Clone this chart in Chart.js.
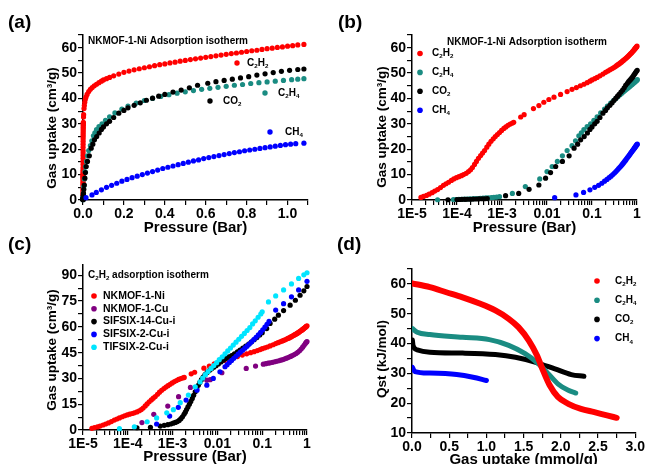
<!DOCTYPE html>
<html>
<head>
<meta charset="utf-8">
<script src="https://cdn.jsdelivr.net/npm/chart.js@4.4.0/dist/chart.umd.min.js"></script>
<style>
html, body { margin: 0; padding: 0; background: #fff; overflow: hidden; }
#wrap { position: relative; width: 646px; height: 464px; }
canvas { position: absolute; }
</style>
</head>
<body>
<div id="wrap">
  <canvas id="chartA" width="323" height="240" style="left:0;top:0"></canvas>
  <canvas id="chartB" width="323" height="240" style="left:323px;top:0"></canvas>
  <canvas id="chartC" width="323" height="240" style="left:0;top:232px"></canvas>
  <canvas id="chartD" width="323" height="240" style="left:323px;top:232px"></canvas>
</div>
<script>
// NKMOF-1-Ni isotherms, [pressure (bar), uptake (cm3/g)]
const c2h2Ni = [[1.58e-5,1.0],[1.8e-5,1.4],[2.1e-5,1.8],[2.4e-5,2.3],[2.8e-5,2.9],[3.2e-5,3.5],[3.7e-5,4.1],[4.3e-5,4.9],[5.0e-5,5.8],[5.7e-5,6.4],[6.5e-5,7.0],[7.5e-5,7.7],[8.5e-5,8.3],[9.7e-5,8.8],[1.1e-4,9.2],[1.25e-4,9.6],[1.4e-4,10.0],[1.6e-4,10.5],[1.8e-4,11.2],[2.0e-4,11.9],[2.2e-4,12.8],[2.45e-4,14.0],[2.7e-4,15.2],[3.0e-4,16.4],[3.35e-4,17.5],[3.7e-4,18.5],[4.1e-4,19.5],[4.6e-4,20.8],[5.1e-4,22.0],[5.7e-4,23.1],[6.4e-4,24.1],[7.1e-4,25.0],[7.9e-4,25.8],[8.8e-4,26.6],[9.8e-4,27.4],[1.1e-3,28.2],[1.22e-3,28.8],[1.36e-3,29.4],[1.52e-3,29.9],[1.7e-3,30.3],[1.82e-3,30.6],
  [2.6e-3,32.7],[3.1e-3,33.6],[5.0e-3,36.0],[6.6e-3,37.2],[8.5e-3,38.5],[0.011,39.6],[0.0143,40.5],[0.02,41.6],[0.028,42.7],[0.036,43.6],[0.045,44.3],[0.055,45.0],[0.066,45.6],[0.078,46.2],[0.09,46.8],[0.1,47.3],[0.115,47.8],[0.13,48.3],[0.15,48.9],[0.175,49.6],[0.2,50.3],[0.225,50.8],[0.25,51.3],[0.275,51.7],[0.3,52.1],[0.325,52.5],[0.35,52.9],[0.375,53.3],[0.4,53.6],[0.425,54.0],[0.45,54.3],[0.475,54.7],[0.5,55.0],[0.525,55.3],[0.55,55.6],[0.575,55.9],[0.6,56.2],[0.625,56.5],[0.65,56.8],[0.675,57.1],[0.7,57.4],[0.725,57.7],[0.75,57.9],[0.775,58.2],[0.8,58.5],[0.825,58.8],[0.85,59.0],[0.875,59.3],[0.9,59.6],[0.925,59.8],[0.95,60.1],[0.975,60.3],[1.0,60.6],[1.025,60.8],[1.05,61.1],[1.08,61.3]];
const c2h4Ni = [[3.7e-5,0.1],[8.3e-5,0.2],[9.5e-5,0.2],[1.1e-4,0.25],[1.25e-4,0.3],[1.45e-4,0.35],[1.65e-4,0.4],[1.9e-4,0.45],[2.2e-4,0.5],[2.5e-4,0.55],[2.9e-4,0.6],[3.3e-4,0.65],[3.8e-4,0.7],[4.4e-4,0.8],[5.0e-4,0.85],[5.8e-4,0.95],[6.6e-4,1.05],[7.6e-4,1.15],[8.8e-4,1.3],
  [1.7e-3,2.6],[3.3e-3,5.3],[6.9e-3,8.3],[0.01,11.2],[0.013,13.2],[0.017,15.2],[0.022,17.4],[0.028,19.5],[0.036,21.4],[0.043,23.3],[0.051,25.3],[0.058,26.5],[0.066,27.7],[0.078,28.9],[0.093,30.0],[0.11,31.4],[0.13,32.8],[0.156,34.3],[0.19,35.8],[0.22,37.0],[0.26,38.2],[0.3,39.2],[0.34,40.0],[0.38,40.8],[0.42,41.5],[0.46,42.1],[0.5,42.6],[0.54,43.1],[0.58,43.6],[0.62,44.0],[0.66,44.4],[0.7,44.8],[0.74,45.2],[0.78,45.5],[0.82,45.9],[0.86,46.2],[0.9,46.5],[0.94,46.8],[0.98,47.1],[1.02,47.4],[1.05,47.6],[1.08,47.8]];
const co2Ni = [[6.3e-5,0.1],[1.0e-4,0.2],[1.15e-4,0.2],[1.3e-4,0.25],[1.5e-4,0.25],[1.7e-4,0.3],[2.0e-4,0.3],[2.3e-4,0.35],[2.7e-4,0.4],[3.1e-4,0.45],[3.6e-4,0.5],[4.1e-4,0.5],[4.7e-4,0.55],
  [1.2e-3,1.7],[2.35e-3,2.6],[4.0e-3,4.2],[6.6e-3,5.9],[9.3e-3,8.6],[0.012,10.8],[0.0156,13.2],[0.022,15.2],[0.031,17.4],[0.04,20.4],[0.048,22.0],[0.056,23.7],[0.067,25.0],[0.079,26.4],[0.09,27.8],[0.1,28.8],[0.115,30.0],[0.13,31.0],[0.15,32.5],[0.175,34.2],[0.2,35.3],[0.22,36.3],[0.25,37.3],[0.28,38.3],[0.31,39.3],[0.34,40.1],[0.37,40.9],[0.4,41.6],[0.44,42.5],[0.48,43.3],[0.52,44.2],[0.56,45.2],[0.61,46.0],[0.65,46.6],[0.69,47.1],[0.73,47.6],[0.77,48.1],[0.81,48.6],[0.85,49.2],[0.89,49.7],[0.93,50.2],[0.97,50.7],[1.01,51.1],[1.05,51.4],[1.08,51.6]];
const ch4Ni = [[0.0148,0.9],[0.044,2.0],[0.065,3.0],[0.09,4.0],[0.115,5.0],[0.14,5.8],[0.165,6.6],[0.19,7.4],[0.215,8.1],[0.24,8.8],[0.265,9.4],[0.29,10.0],[0.315,10.6],[0.34,11.2],[0.365,11.8],[0.39,12.4],[0.415,12.9],[0.44,13.4],[0.465,13.9],[0.49,14.4],[0.515,14.9],[0.54,15.4],[0.565,15.8],[0.59,16.3],[0.615,16.7],[0.64,17.1],[0.665,17.5],[0.69,17.9],[0.715,18.3],[0.74,18.7],[0.765,19.0],[0.79,19.4],[0.815,19.7],[0.84,20.0],[0.865,20.3],[0.89,20.6],[0.915,20.9],[0.94,21.2],[0.965,21.5],[0.99,21.8],[1.015,22.0],[1.04,22.2],[1.08,22.4]];

// C2H2 isotherms of the comparison materials
const c2h2Cu = [[2.07e-4,4.3],[3.8e-4,9.1],[7.8e-4,13.9],[1.36e-3,19.4],[2.5e-3,24.8],[5.8e-3,29.0],[6.9e-3,29.3],[0.0126,33.3],[0.044,35.8],[0.071,37.2],[0.106,38.3],[0.12,38.6],[0.135,38.9],[0.15,39.1],[0.17,39.4],[0.19,39.7],[0.21,40.0],[0.235,40.3],[0.26,40.6],[0.29,41.0],[0.32,41.4],[0.35,41.8],[0.39,42.3],[0.43,42.8],[0.47,43.3],[0.52,43.9],[0.57,44.5],[0.62,45.2],[0.68,46.1],[0.74,47.1],[0.8,48.2],[0.86,49.3],[0.92,50.4],[0.97,51.1],[1.0,51.5]];
const c2h2S14 = [[1.6e-4,1.3],[3.2e-4,1.6],[5.3e-4,2.3],[6.5e-4,2.7],[7.8e-4,3.1],[9.1e-4,3.5],[1.03e-3,4.0],[1.15e-3,4.4],[1.28e-3,4.9],[1.4e-3,5.6],[1.53e-3,6.6],[1.66e-3,7.7],[1.8e-3,9.1],[1.92e-3,10.4],[2.05e-3,11.9],[2.2e-3,13.4],[2.37e-3,15.0],[2.55e-3,16.6],[2.75e-3,18.4],[2.95e-3,20.2],[3.2e-3,22.2],[3.45e-3,24.1],[3.75e-3,26.0],[4.05e-3,27.7],[4.4e-3,29.3],[4.8e-3,30.8],[5.3e-3,32.3],[5.9e-3,33.5],[6.6e-3,34.6],[7.4e-3,35.6],[8.3e-3,36.5],[9.3e-3,37.4],[0.0105,38.4],[0.012,39.6],[0.0137,40.7],[0.0157,41.6],[0.018,42.5],[0.0208,43.3],[0.024,44.3],[0.028,45.4],[0.032,46.5],[0.037,47.6],[0.043,48.8],[0.05,50.0],[0.057,51.2],[0.066,52.5],[0.076,53.8],[0.088,55.3],[0.1,56.6],[0.126,59.0],[0.15,62.0],[0.19,64.5],[0.23,66.8],[0.3,69.5],[0.42,72.6],[0.55,75.5],[0.7,78.4],[0.85,81.0],[1.0,83.5]];
const c2h2S2 = [[4.4e-4,3.5],[8.6e-4,8.1],[1.34e-3,13.2],[2.0e-3,17.4],[3.5e-3,23.2],[5.8e-3,26.1],[8.1e-3,30.0],[0.0114,33.9],[0.0148,36.8],[0.0165,38.0],[0.0185,39.3],[0.0207,40.5],[0.0232,41.7],[0.026,42.9],[0.029,44.1],[0.0325,45.3],[0.0365,46.4],[0.041,47.6],[0.046,48.8],[0.0515,50.0],[0.058,51.3],[0.065,52.6],[0.073,53.9],[0.082,55.3],[0.092,56.8],[0.103,58.3],[0.115,59.9],[0.128,61.5],[0.142,63.2],[0.2,69.8],[0.3,73.5],[0.45,77.5],[0.65,81.5],[1.0,86.5]];
const c2h2Ti = [[6.5e-5,0.8],[1.4e-4,1.9],[2.7e-4,4.8],[4.4e-4,7.0],[7.4e-4,10.0],[1.04e-3,11.8],[1.48e-3,15.9],[2.25e-3,20.3],[3.2e-3,25.1],[4.1e-3,28.0],[4.7e-3,30.2],[5.4e-3,32.2],[6.2e-3,34.0],[7.2e-3,35.8],[8.3e-3,37.5],[9.6e-3,39.2],[0.011,40.9],[0.0128,42.6],[0.0148,44.3],[0.017,46.0],[0.0196,47.7],[0.0226,49.4],[0.026,51.1],[0.03,52.8],[0.0346,54.5],[0.04,56.2],[0.046,57.9],[0.053,59.6],[0.061,61.7],[0.07,63.5],[0.081,65.6],[0.093,67.5],[0.1,68.8],[0.138,74.5],[0.2,78.0],[0.3,81.5],[0.45,85.0],[0.65,88.2],[0.85,90.3],[1.0,91.5]];

// isosteric heats, [uptake (mmol/g), Qst (kJ/mol)]
const qstC2h2 = [[0,60.2],[0.24,58.9],[0.46,57.2],[0.68,55.5],[0.9,53.5],[1.12,51.1],[1.3,48.3],[1.43,45.5],[1.57,41.0],[1.68,36.0],[1.76,31.0],[1.85,26.0],[1.96,22.1],[2.1,19.8],[2.27,18.1],[2.45,17.0],[2.62,15.9],[2.75,15.1]];
const qstC2h4 = [[0,45.1],[0.07,43.8],[0.24,43.0],[0.68,42.1],[1.04,41.3],[1.3,39.4],[1.52,36.6],[1.7,33.2],[1.83,29.9],[1.96,26.5],[2.1,24.3],[2.2,23.4]];
const qstCo2 = [[0.005,41.2],[0.015,39.2],[0.07,37.9],[0.24,37.1],[0.68,36.8],[1.12,36.3],[1.39,35.4],[1.65,33.8],[1.92,31.5],[2.14,29.6],[2.31,29.0]];
const qstCh4 = [[0.005,32.0],[0.04,30.6],[0.24,30.1],[0.6,29.6],[0.82,28.7],[1.0,27.6]];

const logDecades = [1e-5, 1e-4, 1e-3, 1e-2, 1e-1];
const logTickLabels = ['1E-5', '1E-4', '1E-3', '0.01', '0.1', '1'];

const RED = '#ff0000', TEAL = '#1a8c82', BLACK = '#000000', BLUE = '#0000ff', PURPLE = '#800080', CYAN = '#00e5ff';
const FONT = '"Liberation Sans", Arial, sans-serif';

const logTickValues = [];
logDecades.forEach(d => { for (let m = 1; m <= 9; m++) logTickValues.push(m * d); });
logTickValues.push(1);

// "_" puts the next character in subscript
function drawRich(ctx, text, x, y, size) {
  let cx = x;
  text.match(/_.|[^_]+/g).forEach(p => {
    const sub = p[0] === '_';
    const s = sub ? p.slice(1) : p;
    ctx.font = 'bold ' + (sub ? size * 0.62 : size) + 'px ' + FONT;
    ctx.fillText(s, cx, sub ? y + size * 0.32 : y);
    cx += ctx.measureText(s).width;
  });
}

const notes = {
  id: 'notes',
  afterDatasetsDraw(chart, args, o) {
    const ctx = chart.ctx;
    ctx.save();
    ctx.textBaseline = 'middle';
    ctx.textAlign = 'left';
    (o.items || []).forEach(it => {
      if (it.dot) {
        ctx.fillStyle = it.dot;
        ctx.beginPath();
        ctx.arc(it.dotX, it.y, 2.7, 0, Math.PI * 2);
        ctx.fill();
      }
      ctx.fillStyle = '#000';
      drawRich(ctx, it.text, it.x, it.y, it.size);
    });
    if (o.legend) {
      const L = o.legend;
      chart.data.datasets.forEach((ds, i) => {
        const y = L.y + i * L.dy;
        ctx.fillStyle = ds.legendColor;
        ctx.beginPath();
        ctx.arc(L.dotX, y, 2.8, 0, Math.PI * 2);
        ctx.fill();
        ctx.fillStyle = '#000';
        drawRich(ctx, ds.label, L.x, y, L.size);
      });
    }
    if (o.ytitle) {
      // vertical axis title, placed like the original (a bit below the axis centre)
      const t = o.ytitle;
      ctx.translate(t.x, t.y);
      ctx.rotate(-Math.PI / 2);
      ctx.textAlign = 'center';
      ctx.fillStyle = '#000';
      ctx.font = 'bold ' + t.size + 'px ' + FONT;
      ctx.fillText(t.text, 0, 0);
    }
    ctx.restore();
  }
};
Chart.register(notes);

const isStep = (v, every) => Math.abs(v / every - Math.round(v / every)) < 1e-6;

function axis(title, titleSize, titlePad, boxSize) {
  return {
    border: { display: true, color: '#000', width: 1.5 },
    grid: { drawOnChartArea: false, drawTicks: true, tickLength: 5, color: '#000', lineWidth: 1.2 },
    ticks: { color: '#000', font: { family: FONT, size: 14, weight: 'bold' }, padding: 1,
             autoSkip: false, maxRotation: 0, minRotation: 0, includeBounds: false },
    title: { display: !!title, text: title, color: '#000',
             font: { family: FONT, size: titleSize, weight: 'bold' }, padding: titlePad },
    afterFit: s => { if (s.isHorizontal()) s.height = boxSize; else s.width = boxSize; }
  };
}
function linAxis(title, titleSize, titlePad, boxSize, min, max, step, every, digits) {
  const a = axis(title, titleSize, titlePad, boxSize);
  a.type = 'linear';
  a.min = min; a.max = max;
  a.ticks.stepSize = step;
  a.ticks.callback = v => isStep(v, every) ? v.toFixed(digits) : '';
  return a;
}
function logAxis(title, titlePad, boxSize) {
  const a = axis(title, 15, titlePad, boxSize);
  a.type = 'logarithmic';
  a.min = 1e-5; a.max = 1;
  a.afterBuildTicks = s => { s.ticks = logTickValues.map(v => ({ value: v })); };
  a.ticks.callback = v => {
    const e = Math.log10(v), r = Math.round(e);
    return Math.abs(e - r) < 1e-6 ? logTickLabels[r + 5] : '';
  };
  return a;
}

const pts = arr => arr.map(p => ({ x: p[0], y: p[1] }));
function dots(label, arr, color, i) {
  return { label, data: pts(arr), backgroundColor: color, legendColor: color, borderWidth: 0,
           pointRadius: 2.6, clip: false, order: -i };
}
function curve(label, arr, color, width) {
  return { label, data: pts(arr), borderColor: color, legendColor: color, borderWidth: width,
           pointRadius: 0, showLine: true, cubicInterpolationMode: 'monotone',
           borderCapStyle: 'round', borderJoinStyle: 'round' };
}
function baseOptions(padding, scales, notesOpt) {
  return {
    responsive: false, animation: false, events: [],
    layout: { padding, autoPadding: false },
    plugins: { legend: { display: false }, tooltip: { enabled: false }, notes: notesOpt },
    scales
  };
}
const upTitle = 'Gas uptake (cm\u00b3/g)';

new Chart(document.getElementById('chartA'), {
  type: 'scatter',
  data: { datasets: [
    dots('C_2H_2', c2h2Ni, RED, 0), dots('C_2H_4', c2h4Ni, TEAL, 1),
    dots('CO_2', co2Ni, BLACK, 2), dots('CH_4', ch4Ni, BLUE, 3)
  ] },
  options: baseOptions({ left: 40, top: 35, right: 15, bottom: 0 }, {
    x: linAxis('Pressure (Bar)', 15, { top: 0, bottom: 3.5 }, 40, 0, 1.1, 0.1, 0.2, 1),
    y: linAxis('', 13.5, 0, 43, 0, 65, 5, 10, 0)
  }, {
    items: [
      { text: '(a)', x: 8, y: 23, size: 19 },
      { text: 'NKMOF-1-Ni Adsorption isotherm', x: 88, y: 41, size: 10 },
      { text: 'C_2H_2', x: 247, y: 63, size: 10, dot: RED, dotX: 237 },
      { text: 'CO_2', x: 223, y: 101, size: 10, dot: BLACK, dotX: 210 },
      { text: 'C_2H_4', x: 278, y: 93, size: 10, dot: TEAL, dotX: 265 },
      { text: 'CH_4', x: 285, y: 132, size: 10, dot: BLUE, dotX: 270 }
    ],
    ytitle: { text: upTitle, x: 52, y: 128, size: 13.5 }
  })
});

new Chart(document.getElementById('chartB'), {
  type: 'scatter',
  data: { datasets: [
    dots('C_2H_2', c2h2Ni, RED, 0), dots('C_2H_4', c2h4Ni, TEAL, 1),
    dots('CO_2', co2Ni, BLACK, 2), dots('CH_4', ch4Ni, BLUE, 3)
  ] },
  options: baseOptions({ left: 46, top: 35, right: 9, bottom: 0 }, {
    x: logAxis('Pressure (Bar)', { top: 0, bottom: 3.5 }, 40),
    y: linAxis('', 13.5, 0, 43, 0, 65, 5, 10, 0)
  }, {
    items: [
      { text: '(b)', x: 15, y: 23, size: 19 },
      { text: 'NKMOF-1-Ni Adsorption isotherm', x: 124, y: 42, size: 10 }
    ],
    legend: { dotX: 97, x: 109, y: 53.5, dy: 18.9, size: 10 },
    ytitle: { text: upTitle, x: 59, y: 127, size: 13.5 }
  })
});

new Chart(document.getElementById('chartC'), {
  type: 'scatter',
  data: { datasets: [
    dots('NKMOF-1-Ni', c2h2Ni, RED, 0), dots('NKMOF-1-Cu', c2h2Cu, PURPLE, 1),
    dots('SIFSIX-14-Cu-i', c2h2S14, BLACK, 2), dots('SIFSIX-2-Cu-i', c2h2S2, BLUE, 3),
    dots('TIFSIX-2-Cu-i', c2h2Ti, CYAN, 4)
  ] },
  options: baseOptions({ left: 40, top: 33, right: 16, bottom: 0 }, {
    x: logAxis('Pressure (Bar)', { top: 0, bottom: 6 }, 42),
    y: linAxis('', 13.5, 0, 43, 0, 96, 7.5, 15, 0)
  }, {
    items: [
      { text: '(c)', x: 8, y: 13, size: 19 },
      { text: 'C_2H_2 adsorption isotherm', x: 88, y: 43, size: 10 }
    ],
    legend: { dotX: 94, x: 103, y: 64, dy: 12.8, size: 10.5 },
    ytitle: { text: upTitle, x: 52, y: 118, size: 13.5 }
  })
});

new Chart(document.getElementById('chartD'), {
  type: 'scatter',
  data: { datasets: [
    curve('C_2H_2', qstC2h2, RED, 6), curve('C_2H_4', qstC2h4, TEAL, 5),
    curve('CO_2', qstCo2, BLACK, 5), curve('CH_4', qstCh4, BLUE, 5)
  ] },
  options: baseOptions({ left: 46, top: 37, right: 8, bottom: 0 }, {
    x: linAxis('Gas uptake (mmol/g)', 15, { top: 0, bottom: 3 }, 39, 0, 3, 0.25, 0.5, 1),
    y: linAxis('', 13.5, 0, 43, 10, 65, 5, 10, 0)
  }, {
    items: [{ text: '(d)', x: 14, y: 13, size: 19 }],
    legend: { dotX: 274, x: 292, y: 49, dy: 19.2, size: 10 },
    ytitle: { text: 'Qst (kJ/mol)', x: 59, y: 127, size: 13.5 }
  })
});
</script>
</body>
</html>
